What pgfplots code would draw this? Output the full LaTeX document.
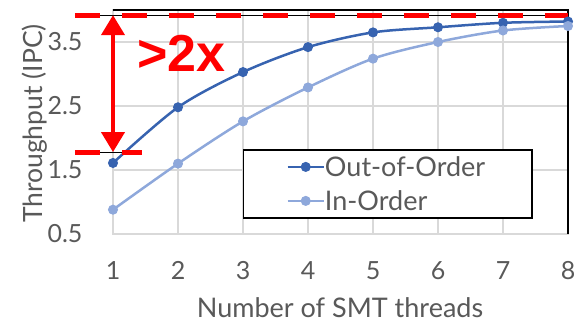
\documentclass[border=0pt]{standalone}
\usepackage{pgfplots}
\pgfplotsset{compat=1.18}
\usepackage{fontspec}
\setmainfont{Lato}
\newfontfamily\arialfont{Liberation Sans}
\usetikzlibrary{arrows.meta}
\definecolor{ooo}{HTML}{3763B0}
\definecolor{ino}{HTML}{8EA8DB}
\definecolor{txt}{HTML}{595959}
\definecolor{grd}{HTML}{D9D9D9}
\definecolor{thin}{HTML}{B7DDE3}
\begin{document}
\begin{tikzpicture}
\path[use as bounding box] (0,0) rectangle (575pt,322pt);
\begin{axis}[
  at={(113pt,88pt)}, anchor=south west,
  scale only axis, width=455pt, height=224pt,
  xmin=1, xmax=8, ymin=0.5, ymax=4.0,
  xtick={1,2,3,4,5,6,7,8}, xticklabels={1,2,3,4,5,6,7,8},
  ytick={0.5,1.5,2.5,3.5}, yticklabels={0.5,1.5,2.5,3.5},
  major tick length=0pt,
  grid=major, grid style={grd, line width=1.5pt},
  axis line style={grd, line width=1.5pt},
  tick label style={font=\fontsize{25}{30}\selectfont, text=txt},
  xticklabel style={yshift=-24pt},
  yticklabel style={xshift=-27pt},
  xlabel={Number of SMT threads},
  ylabel={Throughput (IPC)},
  xlabel style={font=\fontsize{27}{32}\selectfont, text=txt, inner sep=0pt, at={(axis description cs:0.499,-0.371)}, anchor=base},
  ylabel style={font=\fontsize{26.5}{32}\selectfont, text=txt, inner sep=0pt, at={(axis description cs:-0.156,0.493)}, anchor=base},
  clip=false,
  legend style={at={(axis description cs:0.2857,0.0685)}, anchor=south west,
    draw=black, line width=1.5pt, inner sep=0pt,
    font=\fontsize{27}{32}\selectfont, text=txt,
    nodes={inner sep=0pt}, row sep=0pt,
    /tikz/every even column/.append style={column sep=4pt}},
  legend cell align=left,
  legend image code/.code={\path[draw=none,fill=none] (-44pt,-17pt) rectangle (36pt,17pt); \draw[mark repeat=2,mark phase=2,#1] plot coordinates {(0pt,0pt) (18pt,0pt) (36pt,0pt)};},
]
\addplot[ooo, line width=2.5pt, smooth, mark=*, mark size=4.5pt, mark options={fill=ooo, draw=ooo, line width=1pt}]
  coordinates {(1,1.61) (2,2.48) (3,3.03) (4,3.42) (5,3.65) (6,3.73) (7,3.80) (8,3.82)};
\addlegendentry{Out-of-Order\hspace*{47pt}}
\addplot[ino, line width=2.5pt, smooth, mark=*, mark size=4.5pt, mark options={fill=ino, draw=ino, line width=1pt}]
  coordinates {(1,0.88) (2,1.60) (3,2.26) (4,2.79) (5,3.24) (6,3.50) (7,3.68) (8,3.75)};
\addlegendentry{In-Order}
\draw[black, line width=1.5pt] (rel axis cs:0,1) -- (rel axis cs:1,1) -- (rel axis cs:1,0);
\draw[thin, line width=1pt] (axis cs:0.415,3.92) -- (axis cs:8,3.92);
\draw[thin, line width=1pt] (axis cs:0.415,1.78) -- (axis cs:1.446,1.78);
\draw[red, line width=5pt, dash pattern=on 25pt off 22pt] (axis cs:0.415,3.92) -- (axis cs:8,3.92);
\draw[red, line width=5pt, dash pattern=on 25pt off 22pt] (axis cs:0.415,1.78) -- (axis cs:1.446,1.78);
\draw[red, line width=4pt, {Triangle[width=23pt,length=20pt]}-{Triangle[width=23pt,length=20pt]}] (axis cs:1,3.92) -- (axis cs:1,1.78);
\node[red, font=\arialfont\bfseries\fontsize{52}{56}\selectfont, inner sep=0pt] at (axis cs:2.054,3.33) {>2x};
\end{axis}
\end{tikzpicture}
\end{document}
